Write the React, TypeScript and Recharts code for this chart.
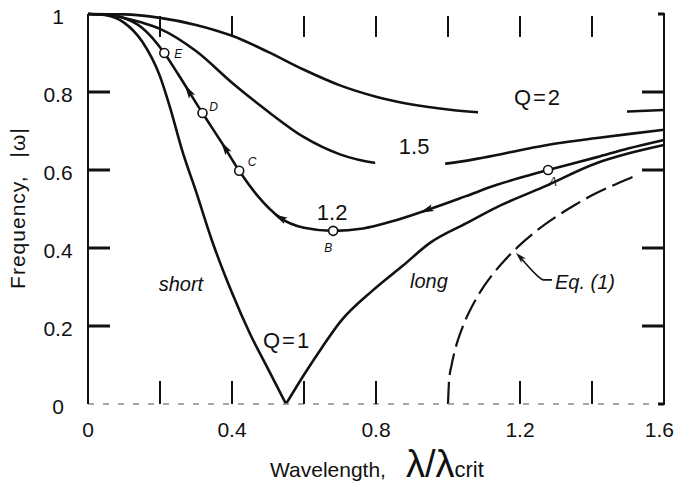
import React from 'react';
import { ComposedChart, Customized, Line, ReferenceDot, Scatter, XAxis, YAxis } from 'recharts';

// Frequency vs wavelength for several Q values.

const FONT = '"Liberation Sans", Arial, Helvetica, sans-serif';
const INK = '#111';

// layout: plot frame is 88..664 x 14..404
const MARGIN = { top: 14, right: 11, bottom: 57, left: 28 };
const PLOT_TOP = 14;
const PLOT_RIGHT = 664;
const PLOT_BOTTOM = 404;
const PLOT_LEFT = 88;

// axis ticks
const xTicks = [0, 0.2, 0.4, 0.6, 0.8, 1.0, 1.2, 1.4, 1.6];
const xTickLabels = [0, 0.4, 0.8, 1.2, 1.6];
const topTicks = [0.2, 0.4, 0.6, 0.8, 1.0, 1.2, 1.4];
const bottomTicks = [0.2, 0.4, 0.6, 0.8, 1.2, 1.4];
const yTicks = [0, 0.2, 0.4, 0.6, 0.8, 1];
const sideTicks = [0.2, 0.4, 0.6, 0.8];

// curves, [λ/λcrit, |ω|]
const q1Short = [
  [0, 1], [0.05, 0.997], [0.1, 0.978], [0.15, 0.93], [0.2, 0.84], [0.228, 0.76], [0.26, 0.655],
  [0.3, 0.545], [0.344, 0.42], [0.4, 0.285], [0.45, 0.18], [0.5, 0.09], [0.55, 0],
];
const q1Long = [
  [0.55, 0], [0.6, 0.075], [0.65, 0.145], [0.7, 0.21], [0.792, 0.292], [0.875, 0.355],
  [0.95, 0.413], [1.05, 0.463], [1.136, 0.505], [1.264, 0.556], [1.414, 0.618], [1.5, 0.642], [1.6, 0.664],
];
const q12 = [
  [0, 1], [0.05, 0.998], [0.1, 0.99], [0.15, 0.965], [0.212, 0.9], [0.25, 0.846], [0.318, 0.746],
  [0.37, 0.672], [0.42, 0.598], [0.47, 0.535], [0.533, 0.478], [0.6, 0.452], [0.681, 0.444],
  [0.764, 0.45], [0.858, 0.472], [0.95, 0.5], [1.05, 0.533], [1.136, 0.562], [1.2, 0.58],
  [1.278, 0.6], [1.414, 0.633], [1.5, 0.655], [1.6, 0.677],
];
const q15 = [
  [0, 1], [0.05, 0.998], [0.1, 0.99], [0.15, 0.978], [0.2, 0.962], [0.3, 0.905], [0.4, 0.824],
  [0.5, 0.75], [0.6, 0.684], [0.7, 0.64], [0.8, 0.618], [0.9, 0.612], [1.0, 0.617], [1.1, 0.632],
  [1.228, 0.656], [1.3, 0.668], [1.414, 0.682], [1.5, 0.692], [1.6, 0.703],
];
const q2 = [
  [0, 1], [0.1, 0.999], [0.2, 0.99], [0.3, 0.972], [0.4, 0.944], [0.5, 0.903], [0.6, 0.857],
  [0.7, 0.817], [0.8, 0.788], [0.9, 0.768], [1.0, 0.755], [1.1, 0.747], [1.2, 0.743],
  [1.3, 0.742], [1.4, 0.745], [1.5, 0.75], [1.6, 0.754],
];
const eq1 = [
  [1.0, 0], [1.003, 0.06], [1.01, 0.1], [1.02, 0.14], [1.04, 0.196], [1.07, 0.256], [1.1, 0.302],
  [1.15, 0.361], [1.2, 0.408], [1.25, 0.447], [1.3, 0.48], [1.35, 0.509], [1.4, 0.535],
  [1.45, 0.557], [1.5, 0.577], [1.53, 0.589],
];

// labelled states on the Q = 1.2 curve
const states = [
  { x: 1.278, y: 0.6, name: 'A' },
  { x: 0.681, y: 0.444, name: 'B' },
  { x: 0.42, y: 0.598, name: 'C' },
  { x: 0.318, y: 0.746, name: 'D' },
  { x: 0.212, y: 0.9, name: 'E' },
];

// direction arrows along Q = 1.2 (heading in screen degrees)
const arrows = [
  { x: 0.94, y: 0.497, heading: 158 },
  { x: 0.533, y: 0.478, heading: -151 },
  { x: 0.38, y: 0.658, heading: -122 },
  { x: 0.279, y: 0.803, heading: -122 },
];

// text notes in the plot
const notes = [
  { x: 1.25, y: 0.787, text: 'Q=2' },
  { x: 0.906, y: 0.662, text: '1.5' },
  { x: 0.678, y: 0.492, text: '1.2' },
  { x: 0.553, y: 0.164, text: 'Q=1' },
  { x: 0.258, y: 0.305, text: 'short' },
  { x: 0.947, y: 0.313, text: 'long' },
];
const eqNote = [{ x: 1.186, y: 0.39, text: 'Eq. (1)' }];

const toXY = (pts: number[][]) => pts.map(([x, y]) => ({ x, y }));

// ---- styling helpers ----
const letterOffset: Record<string, [number, number]> = {
  A: [5, 12], B: [-5, 17], C: [13, -9], D: [11, -6], E: [14, 1],
};
const italicNotes = new Set(['short', 'long']);
// white knock-outs where the original breaks a curve under its label
const knockout: Record<string, { x: number; y: number; w: number; h: number }> = {
  'Q=2': { x: -60, y: 6, w: 149, h: 14 },
  '1.5': { x: -39, y: 10, w: 70, h: 12 },
};

// x ticks: label below, inward tick marks on bottom and top edges
const xTick = ({ x, y, payload }: any) => {
  const v = payload.value;
  const last = v === xTickLabels[xTickLabels.length - 1];
  return (
    <g>
      {bottomTicks.includes(v) && <rect x={x - 1} y={y - 23} width={2} height={23} fill={INK} />}
      {topTicks.includes(v) && <rect x={x - 1} y={PLOT_TOP + 2} width={2} height={21} fill={INK} />}
      {xTickLabels.includes(v) && (
        <text x={last ? x + 10 : x} y={y} dy={33} textAnchor={last ? 'end' : 'middle'} fontSize={21}
          fontFamily={FONT} fill={INK}>
          {String(v)}
        </text>
      )}
    </g>
  );
};

const yTick = ({ y, payload }: any) => (
  <text x={PLOT_LEFT - 30} y={y} dy={10} textAnchor="middle" fontSize={21} fontFamily={FONT} fill={INK}>
    {String(payload.value)}
  </text>
);

// inward tick marks on the right frame edge, and the matching ones on the left edge
const sideMark = (v: number) => (p: any) => {
  const side = sideTicks.includes(v);
  const len = side ? 22 : 6;
  return (
    <g>
      <rect x={p.cx - len} y={p.cy - 1.5} width={len} height={3} fill={INK} />
      {side && <rect x={PLOT_LEFT} y={p.cy - 1.5} width={22} height={3} fill={INK} />}
    </g>
  );
};

const stateMarker = ({ cx, cy, payload }: any) => {
  const [dx, dy] = letterOffset[payload.name];
  return (
    <g>
      <circle cx={cx} cy={cy} r={4.5} fill="#fff" stroke={INK} strokeWidth={1.6} />
      <text x={cx + dx} y={cy + dy} dy={4} textAnchor="middle" fontSize={12} fontStyle="italic"
        fontFamily={FONT} fill={INK}>{payload.name}</text>
    </g>
  );
};

const arrowHead = ({ cx, cy, payload }: any) => (
  <polygon points="7,0 -7,-3.6 -4,0 -7,3.6" fill={INK}
    transform={`translate(${cx},${cy}) rotate(${payload.heading})`} />
);

const noteText = ({ cx, cy, payload }: any) => {
  const k = knockout[payload.text];
  const italic = italicNotes.has(payload.text);
  const isQ = payload.text.startsWith('Q');
  return (
    <g>
      {k && <rect x={cx + k.x} y={cy + k.y} width={k.w} height={k.h} fill="#fff" />}
      <text x={cx} y={cy} dy={italic ? 6 : 8} textAnchor="middle" fontFamily={FONT} fill={INK}
        fontSize={italic ? 20 : 22} fontStyle={italic ? 'italic' : 'normal'}
        letterSpacing={isQ ? 2 : 0}>{payload.text}</text>
    </g>
  );
};

const eqPointer = ({ cx, cy, payload }: any) => (
  <g>
    <path d={`M${cx + 37},${cy + 28} L${cx + 28},${cy + 28} Q${cx + 22},${cy + 25} ${cx + 6},${cy + 6}`}
      fill="none" stroke={INK} strokeWidth={1.6} />
    <polygon points="0,0 -11,-3.2 -8,0 -11,3.2" fill={INK}
      transform={`translate(${cx + 1},${cy + 1}) rotate(-135)`} />
    <text x={cx + 40} y={cy + 37} fontSize={20} fontStyle="italic" fontFamily={FONT} fill={INK}>
      {payload.text}
    </text>
  </g>
);

// right frame edge and the two axis titles
const Frame = () => (
  <g fontFamily={FONT} fill={INK}>
    <rect x={PLOT_RIGHT - 1} y={PLOT_TOP - 1} width={2} height={PLOT_BOTTOM - PLOT_TOP + 2} fill={INK} />
    <text transform="translate(25,208) rotate(-90)" textAnchor="middle" fontSize={21} letterSpacing={1}>
      Frequency,<tspan dx={18}>|ω|</tspan>
    </text>
    <text x={270} y={477} fontSize={21}>
      Wavelength,
      <tspan dx={20} fontSize={38}>λ/λ</tspan>
      <tspan fontSize={22}>crit</tspan>
    </text>
  </g>
);

const curve = { type: 'monotone' as const, dataKey: 'y', stroke: INK, strokeWidth: 2.6, dot: false,
  activeDot: false, isAnimationActive: false };

export default function App() {
  return (
    <div style={{ position: 'absolute', left: 0, top: 0, width: 675, height: 491, background: '#fff' }}>
      <ComposedChart width={675} height={491} margin={MARGIN}>
        <XAxis type="number" dataKey="x" domain={[0, 1.6]} ticks={xTicks}
          interval={0} height={30} tickSize={0} tickMargin={0} tickLine={false} tick={xTick}
          axisLine={{ stroke: '#8a8a8a', strokeWidth: 1.5, strokeDasharray: '6 9' }} />
        <YAxis type="number" dataKey="y" domain={[0, 1]} ticks={yTicks} interval={0}
          width={60} tickSize={0} tickMargin={0} tickLine={false} tick={yTick}
          axisLine={{ stroke: INK, strokeWidth: 2 }} />

        <Line {...curve} data={toXY(q2)} name="Q=2" />
        <Line {...curve} data={toXY(q15)} name="Q=1.5" />
        <Line {...curve} data={toXY(q12)} name="Q=1.2" />
        <Line {...curve} data={toXY(q1Short)} name="Q=1 short" />
        <Line {...curve} data={toXY(q1Long)} name="Q=1 long" />
        <Line {...curve} data={toXY(eq1)} name="Eq. (1)" strokeWidth={2.2} strokeDasharray="22 7" />

        {yTicks.map((v) => (
          <ReferenceDot key={`r${v}`} x={1.6} y={v} r={3} ifOverflow="visible" shape={sideMark(v)} />
        ))}

        <Scatter data={arrows} dataKey="y" shape={arrowHead} isAnimationActive={false} />
        <Scatter data={states} dataKey="y" shape={stateMarker} isAnimationActive={false} />
        <Scatter data={notes} dataKey="y" shape={noteText} isAnimationActive={false} />
        <Scatter data={eqNote} dataKey="y" shape={eqPointer} isAnimationActive={false} />
        <Customized component={Frame} />
      </ComposedChart>
    </div>
  );
}
